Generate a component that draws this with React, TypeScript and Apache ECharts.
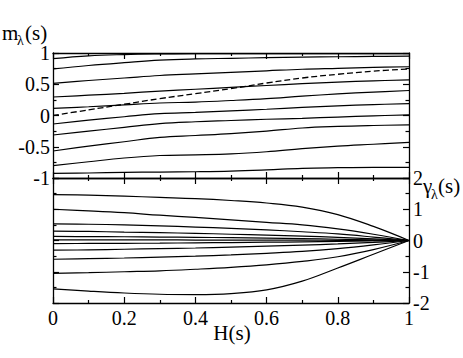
import React, { useEffect, useRef } from "react";
import * as echarts from "echarts";

// H(s) sample points
const H = [0, 0.1, 0.2, 0.3, 0.4, 0.5, 0.6, 0.7, 0.8, 0.9, 1.0];

// top panel: m_lambda(s)
const m1 = [0.91, 0.955, 0.975, 0.985, 0.99, 0.99, 0.99, 0.99, 0.99, 0.99, 0.99];
const m2 = [0.745, 0.8, 0.845, 0.885, 0.905, 0.915, 0.925, 0.935, 0.94, 0.945, 0.95];
const m3 = [0.515, 0.56, 0.6, 0.64, 0.665, 0.69, 0.715, 0.74, 0.755, 0.77, 0.78];
const m4 = [0.296, 0.325, 0.355, 0.39, 0.42, 0.45, 0.48, 0.51, 0.535, 0.555, 0.57];
const m5 = [0.115, 0.14, 0.17, 0.2, 0.215, 0.24, 0.27, 0.31, 0.345, 0.375, 0.4];
const m6 = [-0.136, -0.075, -0.02, 0.03, 0.05, 0.075, 0.1, 0.13, 0.155, 0.175, 0.19];
const m7 = [-0.312, -0.25, -0.19, -0.13, -0.1, -0.08, -0.06, -0.045, -0.025, -0.005, 0.01];
const m8 = [-0.568, -0.49, -0.42, -0.35, -0.32, -0.29, -0.25, -0.2, -0.175, -0.16, -0.15];
const m9 = [-0.803, -0.74, -0.68, -0.64, -0.63, -0.615, -0.58, -0.53, -0.49, -0.46, -0.43];
const m10 = [-0.925, -0.92, -0.91, -0.905, -0.9, -0.89, -0.87, -0.845, -0.835, -0.83, -0.83];
const mDashed = [0, 0.09, 0.18, 0.27, 0.35, 0.43, 0.52, 0.6, 0.66, 0.71, 0.745];

// bottom panel: gamma_lambda(s)
const g1 = [1.47, 1.45, 1.42, 1.38, 1.34, 1.28, 1.2, 1.07, 0.83, 0.45, 0];
const g2 = [1.0, 0.95, 0.89, 0.81, 0.74, 0.66, 0.58, 0.5, 0.37, 0.2, 0];
const g3 = [0.53, 0.52, 0.5, 0.47, 0.43, 0.39, 0.34, 0.28, 0.21, 0.11, 0];
const g4 = [0.3, 0.29, 0.27, 0.25, 0.23, 0.2, 0.17, 0.14, 0.1, 0.05, 0];
const g5 = [0.13, 0.125, 0.12, 0.11, 0.1, 0.09, 0.075, 0.06, 0.04, 0.02, 0];
const g6 = [0.02, 0.02, 0.02, 0.02, 0.015, 0.015, 0.01, 0.01, 0.005, 0, 0];
const g7 = [-0.1, -0.095, -0.09, -0.085, -0.075, -0.065, -0.055, -0.045, -0.03, -0.015, 0];
const g8 = [-0.31, -0.3, -0.28, -0.26, -0.24, -0.21, -0.18, -0.15, -0.11, -0.06, 0];
const g9 = [-0.6, -0.58, -0.56, -0.53, -0.5, -0.46, -0.41, -0.35, -0.26, -0.14, 0];
const g10 = [-1.05, -1.03, -1.0, -0.97, -0.92, -0.86, -0.78, -0.67, -0.52, -0.29, 0];
const g11 = [-1.55, -1.62, -1.68, -1.72, -1.73, -1.7, -1.58, -1.3, -0.88, -0.44, 0];

const xTicks = [0, 0.2, 0.4, 0.6, 0.8, 1];
const mTicks = [-1, -0.5, 0, 0.5, 1];
const gTicks = [-2, -1, 0, 1, 2];

const mSolid = [m1, m2, m3, m4, m5, m6, m7, m8, m9, m10];
const gSolid = [g1, g2, g3, g4, g5, g6, g7, g8, g9, g10, g11];

const FONT = "'Liberation Serif', 'Times New Roman', 'DejaVu Serif', serif";
const BLACK = "#000";

function zip(ys: number[]) {
  return H.map((h, i) => [h, ys[i]]);
}

export default function App() {
  const ref = useRef<HTMLDivElement>(null);
  useEffect(() => {
    if (!ref.current) return;
    const chart = echarts.init(ref.current, null, { renderer: "svg" });

    const axisLine = { show: true, onZero: false, lineStyle: { color: BLACK, width: 1.3 } };
    const label = { fontFamily: FONT, fontSize: 20, color: BLACK };

    const xBase = (grid: number, pos: string, showLabel: boolean) => ({
      type: "value",
      gridIndex: grid,
      position: pos,
      min: xTicks[0],
      max: xTicks[xTicks.length - 1],
      interval: 0.2,
      axisLine,
      axisTick: { show: true, inside: true, length: 6, lineStyle: { color: BLACK, width: 1.2 } },
      minorTick: { show: true, splitNumber: 2, length: 3, lineStyle: { color: BLACK, width: 1.2 } },
      splitLine: { show: false },
      axisLabel: { show: showLabel, margin: 5, ...label, formatter: (v: number) => String(v) },
    });

    const yBase = (grid: number, pos: string, showLabel: boolean, ticks: number[], interval: number, minorN: number) => ({
      type: "value",
      gridIndex: grid,
      position: pos,
      min: ticks[0],
      max: ticks[ticks.length - 1],
      interval,
      axisLine,
      axisTick: { show: true, inside: true, length: 6, lineStyle: { color: BLACK, width: 1.2 } },
      minorTick: { show: true, splitNumber: minorN, length: 3.5, lineStyle: { color: BLACK, width: 1.2 } },
      splitLine: { show: false },
      axisLabel: { show: showLabel, margin: pos === "left" ? 3 : 4, ...label, formatter: (v: number) => String(v) },
    });

    const series: any[] = [];
    mSolid.forEach((ys) =>
      series.push({
        type: "line",
        xAxisIndex: 0,
        yAxisIndex: 0,
        data: zip(ys),
        showSymbol: false,
        smooth: 0.4,
        lineStyle: { color: BLACK, width: 1.2 },
      })
    );
    series.push({
      type: "line",
      xAxisIndex: 0,
      yAxisIndex: 0,
      data: zip(mDashed),
      showSymbol: false,
      smooth: 0.4,
      lineStyle: { color: BLACK, width: 1.3, type: [6, 3] },
    });
    gSolid.forEach((ys) =>
      series.push({
        type: "line",
        xAxisIndex: 2,
        yAxisIndex: 2,
        data: zip(ys),
        showSymbol: false,
        smooth: 0.4,
        lineStyle: { color: BLACK, width: 1.2 },
      })
    );

    const txt = (text: string, x: number, y: number, size: number, align = "left") => ({
      type: "text",
      x,
      y,
      style: {
        text,
        fill: BLACK,
        fontFamily: FONT,
        fontSize: size,
        textAlign: align,
        textVerticalAlign: "middle",
      },
    });

    chart.setOption({
      animation: false,
      grid: [
        { left: 53, right: 54, top: 53, height: 125 },
        { left: 53, right: 54, top: 178, height: 125 },
      ],
      xAxis: [xBase(0, "bottom", false), xBase(0, "top", false), xBase(1, "bottom", true), xBase(1, "top", false)],
      yAxis: [
        yBase(0, "left", true, mTicks, 0.5, 2),
        yBase(0, "right", false, mTicks, 0.5, 2),
        yBase(1, "left", false, gTicks, 1, 2),
        yBase(1, "right", true, gTicks, 1, 2),
      ],
      series,
      graphic: [
        txt("m", 2, 33, 21),
        txt("λ", 17, 40, 14),
        txt("(s)", 25, 33, 21),
        txt("γ", 423, 186, 21),
        txt("λ", 431, 194, 14),
        txt("(s)", 438, 186, 21),
        txt("H(s)", 232, 333, 21, "center"),
      ],
    });
    return () => chart.dispose();
  }, []);
  return <div ref={ref} style={{ width: 463, height: 358, position: "absolute", left: 0, top: 0 }} />;
}
